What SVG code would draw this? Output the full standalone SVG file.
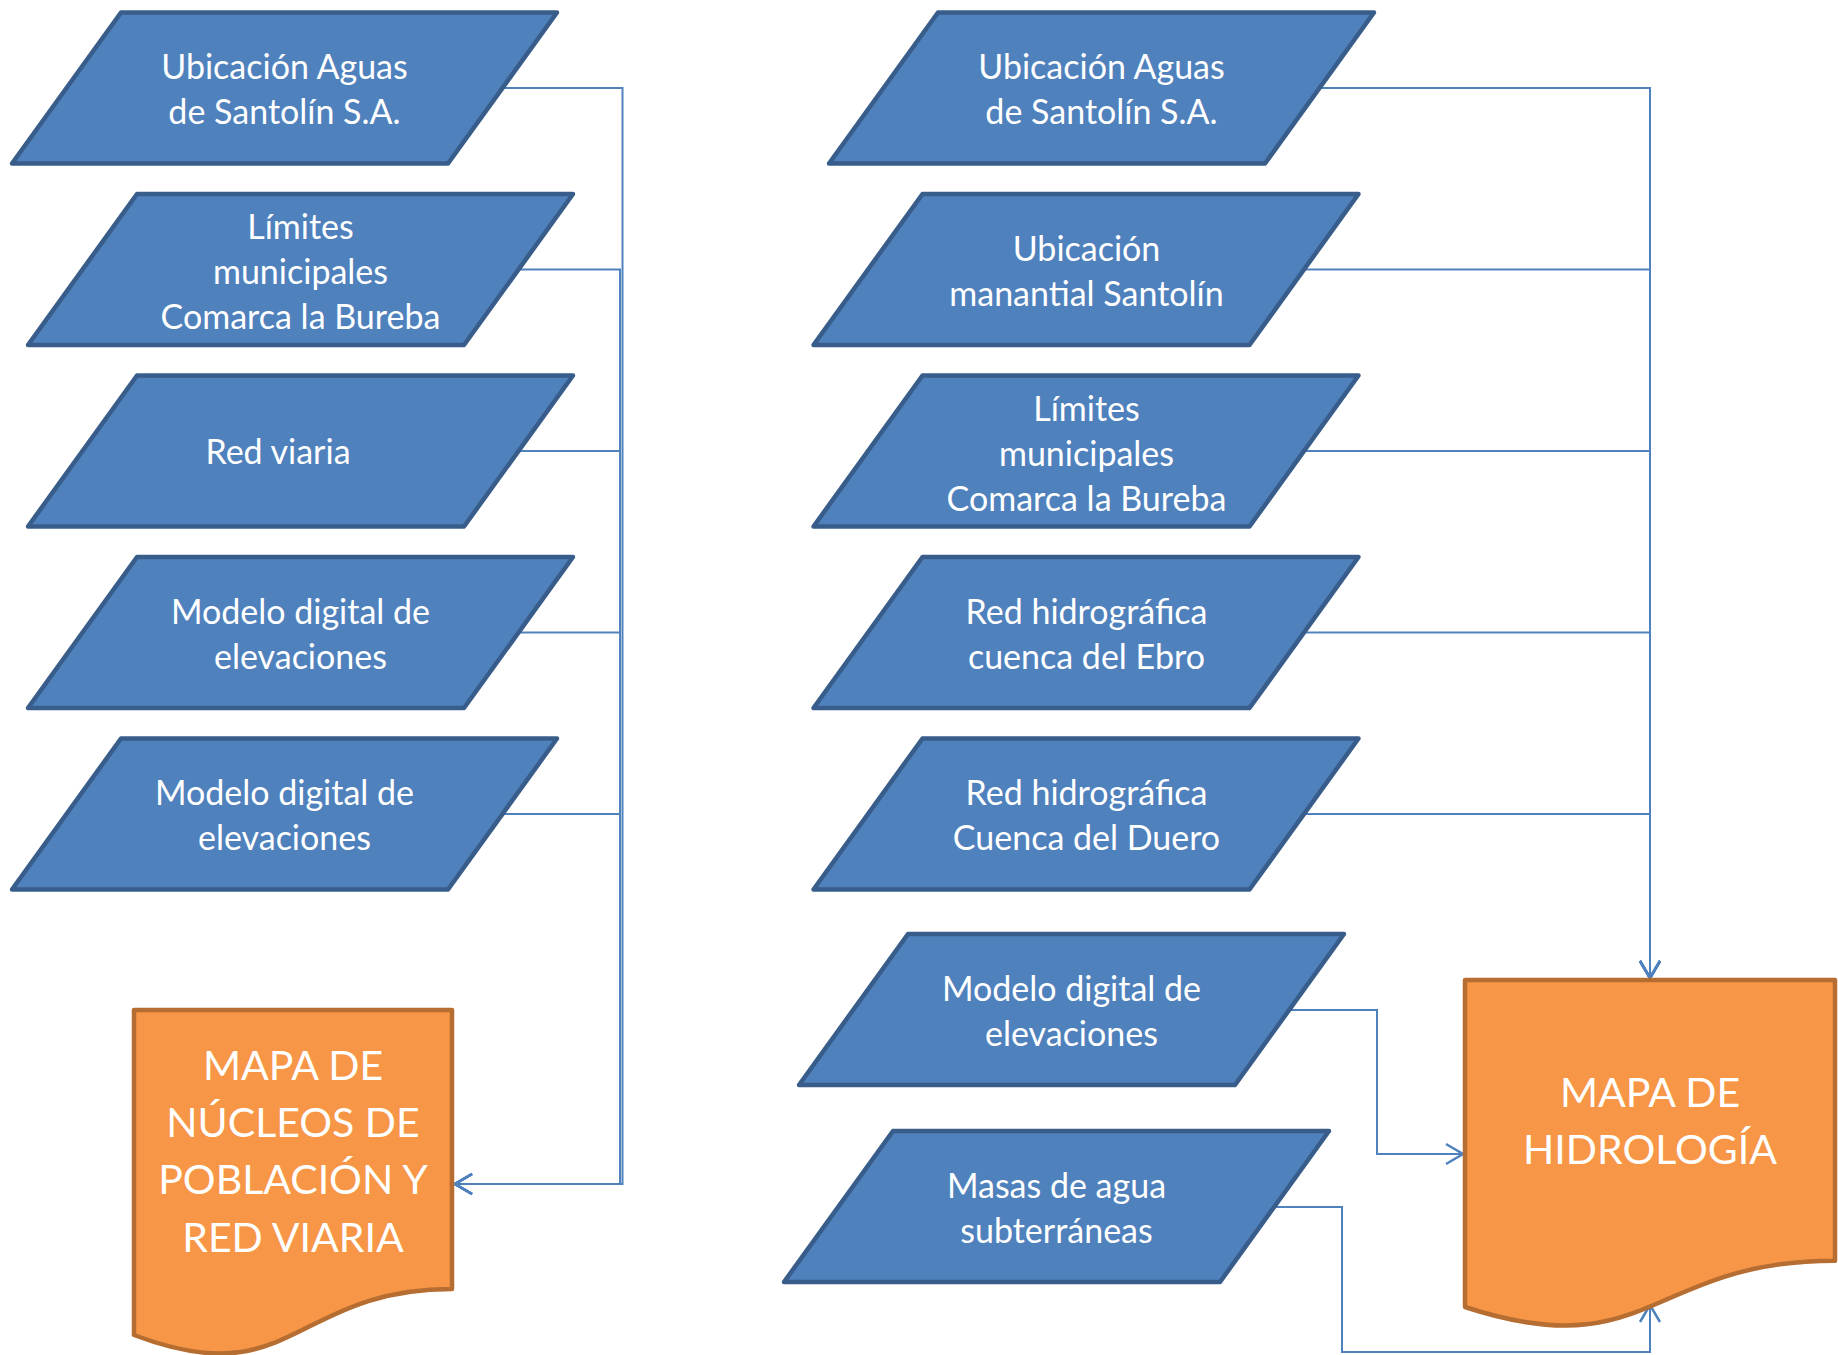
<svg xmlns="http://www.w3.org/2000/svg" width="1838" height="1355" viewBox="0 0 1838 1355">
<style>
.io{fill:#4F81BD;stroke:#385D8A;stroke-width:4.5;stroke-linejoin:round}
.doc{fill:#F79646;stroke:#B66D31;stroke-width:4.5;stroke-linejoin:round}
.t{font-family:Lato,"Open Sans",sans-serif;font-size:34px;fill:#FFFFFF;text-anchor:middle}
.dt{font-family:Lato,"Open Sans",sans-serif;font-size:41px;fill:#FFFFFF;text-anchor:middle}
.c{fill:none;stroke:#4F81BD;stroke-width:2}
</style>
<defs>
<marker id="arr" markerUnits="userSpaceOnUse" markerWidth="24" markerHeight="26" viewBox="0 0 24 26" refX="20" refY="13" orient="auto">
<path d="M3,3 L20,13 L3,23" fill="none" stroke="#4F81BD" stroke-width="2.5"/>
</marker>
</defs>
<rect width="1838" height="1355" fill="#FFFFFF"/>
<g id="connectors">
<path class="c" d="M502.5,88 H622.5 V1184 H455" marker-end="url(#arr)"/>
<path class="c" d="M518.5,269.5 H620 V1184 H455" marker-end="url(#arr)"/>
<path class="c" d="M518.5,451 H620 V1184 H455" marker-end="url(#arr)"/>
<path class="c" d="M518.5,632.5 H620 V1184 H455" marker-end="url(#arr)"/>
<path class="c" d="M502.5,814 H620 V1184 H455" marker-end="url(#arr)"/>
<path class="c" d="M1319.5,88 H1650 V978" marker-end="url(#arr)"/>
<path class="c" d="M1304,269.5 H1650 V978" marker-end="url(#arr)"/>
<path class="c" d="M1304,451 H1650 V978" marker-end="url(#arr)"/>
<path class="c" d="M1304,632.5 H1650 V978" marker-end="url(#arr)"/>
<path class="c" d="M1304,814 H1650 V978" marker-end="url(#arr)"/>
<path class="c" d="M1289.5,1010 H1377 V1154 H1463" marker-end="url(#arr)"/>
<path class="c" d="M1274.5,1207 H1342 V1352 H1650 V1305" marker-end="url(#arr)"/>
</g>
<g id="L1">
<polygon class="io" points="121,12.5 557,12.5 448,163.5 12,163.5"/>
<text class="t" x="284.5" y="79">Ubicación Aguas</text>
<text class="t" x="284.5" y="124">de Santolín S.A.</text>
</g>
<g id="L2">
<polygon class="io" points="137,194 573,194 464,345 28,345"/>
<text class="t" x="300.5" y="239">Límites</text>
<text class="t" x="300.5" y="284">municipales</text>
<text class="t" x="300.5" y="329">Comarca la Bureba</text>
</g>
<g id="L3">
<polygon class="io" points="137,375.5 573,375.5 464,526.5 28,526.5"/>
<text class="t" x="278" y="463.5">Red viaria</text>
</g>
<g id="L4">
<polygon class="io" points="137,557 573,557 464,708 28,708"/>
<text class="t" x="300.5" y="623.5">Modelo digital de</text>
<text class="t" x="300.5" y="668.5">elevaciones</text>
</g>
<g id="L5">
<polygon class="io" points="121,738.5 557,738.5 448,889.5 12,889.5"/>
<text class="t" x="284.5" y="805">Modelo digital de</text>
<text class="t" x="284.5" y="850">elevaciones</text>
</g>
<g id="R1">
<polygon class="io" points="938,12.5 1374,12.5 1265,163.5 829,163.5"/>
<text class="t" x="1101.5" y="79">Ubicación Aguas</text>
<text class="t" x="1101.5" y="124">de Santolín S.A.</text>
</g>
<g id="R2">
<polygon class="io" points="922.5,194 1358.5,194 1249.5,345 813.5,345"/>
<text class="t" x="1086.5" y="260.5">Ubicación</text>
<text class="t" x="1086.5" y="305.5">manantial Santolín</text>
</g>
<g id="R3">
<polygon class="io" points="922.5,375.5 1358.5,375.5 1249.5,526.5 813.5,526.5"/>
<text class="t" x="1086.5" y="420.5">Límites</text>
<text class="t" x="1086.5" y="465.5">municipales</text>
<text class="t" x="1086.5" y="510.5">Comarca la Bureba</text>
</g>
<g id="R4">
<polygon class="io" points="922.5,557 1358.5,557 1249.5,708 813.5,708"/>
<text class="t" x="1086.5" y="623.5">Red hidrográfica</text>
<text class="t" x="1086.5" y="668.5">cuenca del Ebro</text>
</g>
<g id="R5">
<polygon class="io" points="922.5,738.5 1358.5,738.5 1249.5,889.5 813.5,889.5"/>
<text class="t" x="1086.5" y="805">Red hidrográfica</text>
<text class="t" x="1086.5" y="850">Cuenca del Duero</text>
</g>
<g id="R6">
<polygon class="io" points="908,934 1344,934 1235,1085 799,1085"/>
<text class="t" x="1071.5" y="1000.5">Modelo digital de</text>
<text class="t" x="1071.5" y="1045.5">elevaciones</text>
</g>
<g id="R7">
<polygon class="io" points="893,1131 1329,1131 1220,1282 784,1282"/>
<text class="t" x="1056.5" y="1197.5">Masas de agua</text>
<text class="t" x="1056.5" y="1242.5">subterráneas</text>
</g>
<g id="docL">
<path class="doc" d="M134,1010 H452 V1289 C293,1289 293,1395.4 134,1335 Z"/>
<text class="dt" x="293" y="1080">MAPA DE</text>
<text class="dt" x="293" y="1137">NÚCLEOS DE</text>
<text class="dt" x="293" y="1194">POBLACIÓN Y</text>
<text class="dt" x="293" y="1251.5">RED VIARIA</text>
</g>
<g id="docR">
<path class="doc" d="M1465,980 H1835 V1260.7 C1650,1260.7 1650,1367.6 1465,1307 Z"/>
<text class="dt" x="1650" y="1106.5">MAPA DE</text>
<text class="dt" x="1650" y="1163.5">HIDROLOGÍA</text>
</g>
</svg>
